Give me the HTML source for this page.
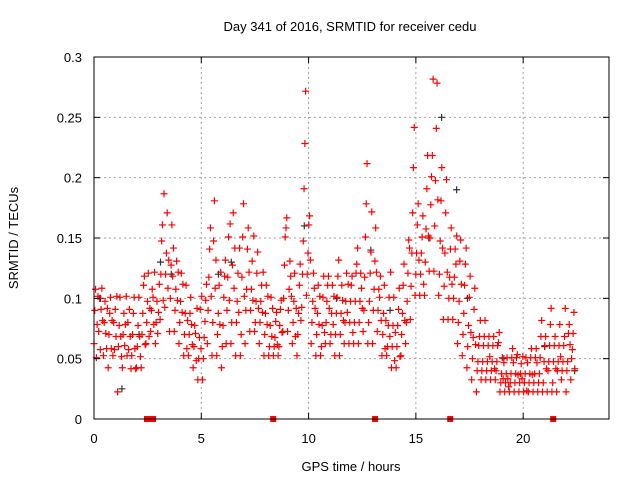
<!DOCTYPE html>
<html><head><meta charset="utf-8"><style>
body{margin:0;background:#fff;}
svg{display:block;font-family:"Liberation Sans",sans-serif;}
</style></head><body>
<svg id="chart" width="640" height="480">
<rect width="640" height="480" fill="#fff"/>
<text x="350" y="31" text-anchor="middle" font-size="13" fill="#000">Day 341 of 2016, SRMTID for receiver cedu</text>
<text x="351" y="471" text-anchor="middle" font-size="13" fill="#000">GPS time / hours</text>
<text transform="translate(18,238) rotate(-90)" text-anchor="middle" font-size="13" fill="#000">SRMTID / TECUs</text>
<g id="grid"></g>
<g id="marks"></g>
<rect x="94" y="57" width="515" height="362" fill="none" stroke="#000" stroke-width="1"/>
<g id="ticks"></g>
</svg>
<script>
const xTicks=[0,5,10,15,20];
const yTicks=[0,0.05,0.1,0.15,0.2,0.25,0.3];
const yTickLabels=["0","0.05","0.1","0.15","0.2","0.25","0.3"];
const binStart=0, binWidth=0.22;
// 6 values per 0.22-hour bin (red series)
const redValues=[
[0.06,0.09,0.11,0.05,0.08,0.1],[0.07,0.1,0.06,0.09,0.11,0.08],[0.05,0.08,0.1,0.07,0.06,0.09],
[0.04,0.07,0.09,0.1,0.06,0.08],[0.05,0.08,0.06,0.09,0.07,0.1],[0.02,0.06,0.08,0.1,0.07,0.05],
[0.04,0.07,0.09,0.06,0.08,0.1],[0.05,0.08,0.06,0.09,0.07,0.04],[0.05,0.07,0.09,0.1,0.06,0.04],
[0.04,0.06,0.08,0.1,0.07,0.05],[0.04,0.07,0.09,0.11,0.12,0.06],[0.06,0.08,0.1,0.12,0.07,0.09],
[0.07,0.09,0.11,0.1,0.08,0.12],[0.06,0.08,0.1,0.07,0.09,0.11],[0.08,0.12,0.15,0.16,0.1,0.185],
[0.09,0.12,0.14,0.17,0.11,0.13],[0.07,0.1,0.13,0.16,0.12,0.14],[0.07,0.09,0.11,0.13,0.1,0.12],
[0.06,0.08,0.1,0.12,0.09,0.11],[0.05,0.07,0.09,0.11,0.06,0.08],[0.05,0.07,0.09,0.1,0.08,0.06],
[0.04,0.06,0.08,0.07,0.05,0.09],[0.03,0.05,0.07,0.09,0.06,0.1],[0.03,0.05,0.07,0.08,0.1,0.11],
[0.06,0.09,0.12,0.14,0.16,0.1],[0.05,0.08,0.15,0.18,0.11,0.13],[0.05,0.07,0.09,0.11,0.08,0.12],
[0.04,0.06,0.08,0.1,0.12,0.13],[0.06,0.09,0.12,0.15,0.1,0.16],[0.06,0.08,0.13,0.17,0.11,0.14],
[0.05,0.08,0.1,0.12,0.09,0.14],[0.05,0.07,0.12,0.15,0.18,0.1],[0.06,0.09,0.11,0.14,0.16,0.12],
[0.07,0.09,0.11,0.13,0.1,0.15],[0.07,0.08,0.1,0.12,0.14,0.09],[0.06,0.08,0.1,0.11,0.09,0.12],
[0.05,0.07,0.09,0.11,0.08,0.1],[0.05,0.06,0.08,0.1,0.07,0.09],[0.05,0.06,0.07,0.08,0.09,0.06],
[0.05,0.06,0.08,0.09,0.1,0.07],[0.07,0.1,0.13,0.15,0.16,0.165],[0.07,0.09,0.11,0.13,0.12,0.1],
[0.06,0.08,0.1,0.12,0.07,0.09],[0.05,0.07,0.09,0.11,0.13,0.08],[0.09,0.12,0.15,0.19,0.23,0.27],
[0.1,0.12,0.14,0.16,0.17,0.13],[0.06,0.08,0.1,0.12,0.11,0.09],[0.05,0.07,0.09,0.11,0.08,0.1],
[0.05,0.06,0.08,0.1,0.12,0.07],[0.06,0.08,0.1,0.11,0.12,0.09],[0.06,0.07,0.09,0.11,0.08,0.1],
[0.05,0.07,0.09,0.1,0.12,0.13],[0.05,0.07,0.09,0.11,0.1,0.08],[0.06,0.08,0.1,0.12,0.09,0.11],
[0.06,0.08,0.1,0.11,0.12,0.07],[0.06,0.08,0.1,0.12,0.13,0.14],[0.06,0.08,0.1,0.12,0.11,0.09],
[0.07,0.09,0.12,0.15,0.18,0.21],[0.06,0.08,0.1,0.12,0.14,0.17],[0.06,0.09,0.11,0.13,0.16,0.12],
[0.07,0.09,0.11,0.1,0.12,0.08],[0.05,0.07,0.09,0.11,0.06,0.08],[0.05,0.06,0.08,0.1,0.07,0.12],
[0.04,0.06,0.08,0.1,0.05,0.07],[0.04,0.06,0.08,0.09,0.11,0.05],[0.05,0.07,0.09,0.11,0.13,0.08],
[0.06,0.08,0.1,0.12,0.15,0.14],[0.08,0.11,0.14,0.17,0.21,0.24],[0.1,0.12,0.14,0.16,0.18,0.13],
[0.1,0.12,0.14,0.15,0.17,0.11],[0.1,0.13,0.16,0.19,0.22,0.15],[0.12,0.15,0.18,0.2,0.22,0.28],
[0.12,0.16,0.2,0.24,0.28,0.18],[0.1,0.12,0.15,0.18,0.21,0.14],[0.08,0.11,0.14,0.17,0.2,0.12],
[0.08,0.1,0.12,0.14,0.16,0.11],[0.08,0.1,0.12,0.14,0.13,0.15],[0.06,0.08,0.1,0.13,0.15,0.11],
[0.05,0.07,0.09,0.11,0.13,0.14],[0.04,0.06,0.08,0.1,0.12,0.07],[0.03,0.05,0.07,0.09,0.11,0.06],
[0.02,0.04,0.05,0.06,0.07,0.08],[0.03,0.04,0.05,0.06,0.07,0.08],[0.03,0.04,0.05,0.06,0.07,0.05],
[0.03,0.04,0.05,0.06,0.07,0.04],[0.03,0.04,0.05,0.06,0.065,0.07],[0.02,0.03,0.04,0.05,0.035,0.045],
[0.02,0.03,0.04,0.05,0.035,0.025],[0.02,0.03,0.04,0.05,0.06,0.045],[0.02,0.03,0.04,0.05,0.055,0.035],
[0.02,0.03,0.04,0.045,0.035,0.05],[0.02,0.03,0.04,0.05,0.025,0.045],[0.02,0.03,0.04,0.05,0.06,0.035],
[0.02,0.03,0.04,0.05,0.06,0.045],[0.02,0.03,0.04,0.05,0.07,0.08],[0.02,0.03,0.05,0.06,0.07,0.04],
[0.02,0.04,0.05,0.06,0.08,0.09],[0.02,0.03,0.05,0.06,0.07,0.04],[0.02,0.04,0.05,0.06,0.08,0.05],
[0.03,0.04,0.05,0.06,0.07,0.09],[0.02,0.04,0.05,0.07,0.08,0.06],[0.03,0.05,0.06,0.07,0.09,0.04]
];
const blackTimes=[0.3,1.3,2.1,3.1,3.6,5.8,6.4,9.8,11.3,12.9,13.8,15.6,16.2,16.9,17.4,19.1,21.0,22.4];
const blackValues=[0.1,0.025,0.07,0.13,0.12,0.12,0.13,0.16,0.1,0.14,0.09,0.15,0.25,0.19,0.1,0.05,0.06,0.04];
const gapTimes=[2.47,2.75,8.35,13.1,16.6,21.4];

const X0=94,X1=609,Y0=419,Y1=57,XMAX=24,YMAX=0.3;
const xs=v=>X0+(X1-X0)*v/XMAX;
const ys=v=>Y0-(Y0-Y1)*v/YMAX;
const NS="http://www.w3.org/2000/svg";
function mk(tag,attrs,parent){const e=document.createElementNS(NS,tag);for(const k in attrs)e.setAttribute(k,attrs[k]);parent.appendChild(e);return e;}
const grid=document.getElementById('grid'),marks=document.getElementById('marks'),ticks=document.getElementById('ticks');
xTicks.forEach(t=>{
  const x=xs(t);
  if(t>0){const g=mk('line',{x1:x,x2:x,y1:Y1,y2:Y0,stroke:'#a0a0a0','stroke-dasharray':'2,3'},grid);
  
  }
  const l=mk('line',{x1:x,x2:x,y1:Y0,y2:Y0-6,stroke:'#000'},ticks);
  
  
  const l2=mk('line',{x1:x,x2:x,y1:Y1,y2:Y1+6,stroke:'#000'},ticks);
  
  
  const tx=mk('text',{x:x,y:443,'text-anchor':'middle','font-size':'13'},ticks);tx.textContent=String(t);
  
  
});
yTicks.forEach((t,i)=>{
  const y=ys(t);
  if(t>0&&t<YMAX){const g=mk('line',{x1:X0,x2:X1,y1:y,y2:y,stroke:'#a0a0a0','stroke-dasharray':'2,3'},grid);
  
  }
  const l=mk('line',{x1:X0,x2:X0+6,y1:y,y2:y,stroke:'#000'},ticks);
  
  
  const l2=mk('line',{x1:X1,x2:X1-6,y1:y,y2:y,stroke:'#000'},ticks);
  
  
  const tx=mk('text',{x:82,y:y+5,'text-anchor':'end','font-size':'13'},ticks);tx.textContent=yTickLabels[i];
  
  
});
function plus(t,v,color,name,dy){
  const x=xs(t),y=ys(v)+(dy||0);
  const p=mk('path',{d:`M${x-3.5} ${y}H${x+3.5}M${x} ${y-3.5}V${y+3.5}`,stroke:color,'stroke-width':'1.2',fill:'none'},marks);
  
  
}
blackTimes.forEach((t,i)=>plus(t,blackValues[i],'#333','black-point',0));
redValues.forEach((bin,b)=>{
  bin.forEach((v,j)=>plus(binStart+b*binWidth+j*binWidth/bin.length,v,'#f00','red-point',((b*7+j*3)%7)-3));
});
gapTimes.forEach(t=>{
  const r=mk('rect',{x:xs(t)-3,y:Y0-3,width:6,height:6,fill:'#f00'},marks);
  
  
});
</script>
</body></html>
